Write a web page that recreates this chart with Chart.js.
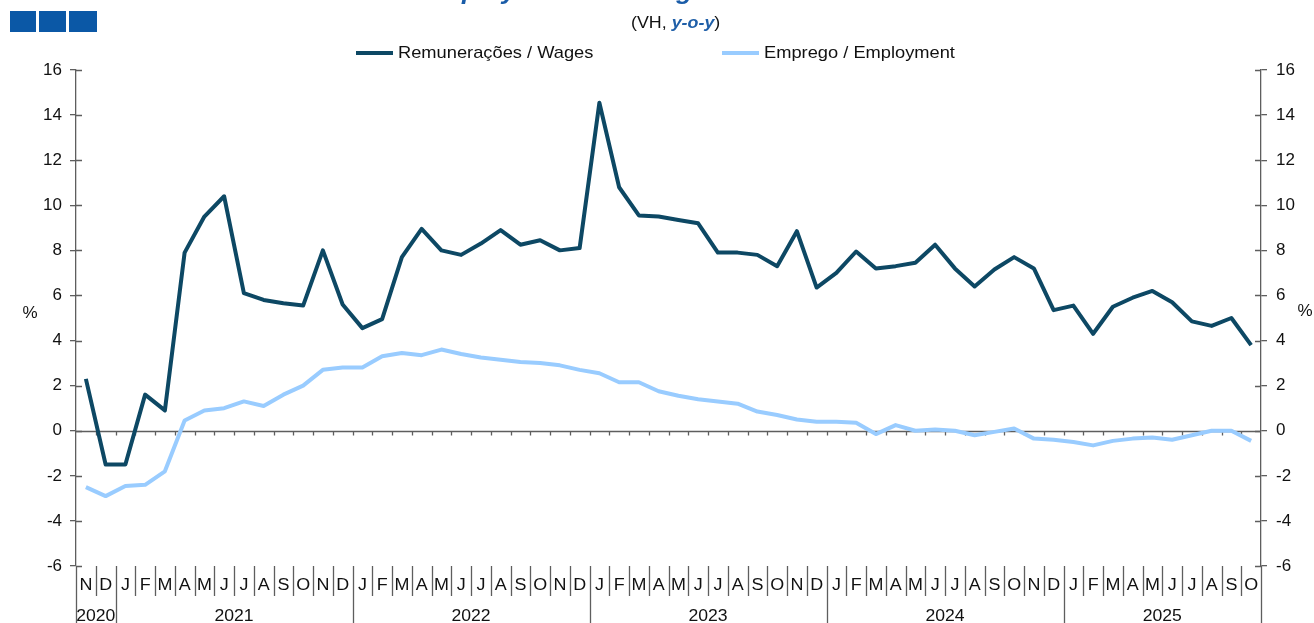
<!DOCTYPE html>
<html><head><meta charset="utf-8">
<script src="https://cdn.jsdelivr.net/npm/chart.js@4.4.0/dist/chart.umd.min.js"></script>
<style>html,body{margin:0;padding:0;background:#fff;overflow:hidden}</style>
</head><body>
<canvas id="c" width="1314" height="623" style="display:block;width:1314px;height:623px"></canvas>
<script>
const monthLabels = ['N','D',
 'J','F','M','A','M','J','J','A','S','O','N','D',
 'J','F','M','A','M','J','J','A','S','O','N','D',
 'J','F','M','A','M','J','J','A','S','O','N','D',
 'J','F','M','A','M','J','J','A','S','O','N','D',
 'J','F','M','A','M','J','J','A','S','O'];
const yearLabels = ['2020','2021','2022','2023','2024','2025'];
const yearStarts = [0,2,14,26,38,50];
const wages = [2.3,-1.5,
 -1.5,1.6,0.9,7.9,9.5,10.4,6.1,5.8,5.65,5.55,8.0,5.6,
 4.55,4.95,7.7,8.95,8.0,7.8,8.3,8.9,8.25,8.45,8.0,8.1,
 14.55,10.8,9.55,9.5,9.35,9.2,7.9,7.9,7.8,7.3,8.85,6.35,
 7.0,7.95,7.2,7.3,7.45,8.25,7.2,6.4,7.15,7.7,7.2,5.35,
 5.55,4.3,5.5,5.9,6.2,5.7,4.85,4.65,5.0,3.8];
const employment = [-2.5,-2.9,
 -2.45,-2.4,-1.8,0.45,0.9,1.0,1.3,1.1,1.6,2.0,2.7,2.8,
 2.8,3.3,3.45,3.35,3.6,3.4,3.25,3.15,3.05,3.0,2.9,2.7,
 2.55,2.15,2.15,1.75,1.55,1.4,1.3,1.2,0.85,0.7,0.5,0.4,
 0.4,0.35,-0.15,0.25,0.0,0.05,0.0,-0.2,-0.05,0.1,-0.35,-0.4,
 -0.5,-0.65,-0.45,-0.35,-0.3,-0.4,-0.2,0.0,0.0,-0.45];
const seriesNames = ['Remunerações / Wages','Emprego / Employment'];
const yMin = -6, yMax = 16, yStep = 2;

const C_WAGES = '#0d4864', C_EMP = '#99ccff', C_AXIS = '#5e5e5e', C_TEXT = '#111';
const FONT = '"Liberation Sans", Arial, sans-serif';

// draw text stretched horizontally by factor sx, anchored at (x,y) per current textAlign
function wideText(ctx, txt, x, y, sx) {
  ctx.save();
  ctx.translate(x, y);
  ctx.scale(sx, 1);
  ctx.fillText(txt, 0, 0);
  ctx.restore();
}

const decor = {
  id: 'decor',
  beforeDatasetsDraw(chart) {
    const {ctx, chartArea: a, scales: {x, y}} = chart;
    const y0 = Math.round(y.getPixelForValue(0)) + 0.5;
    const half = (x.getPixelForValue(1) - x.getPixelForValue(0)) / 2;
    ctx.save();
    ctx.strokeStyle = C_AXIS; ctx.lineWidth = 1.3;
    ctx.beginPath();
    ctx.moveTo(a.left, y0); ctx.lineTo(a.right, y0);
    for (let i = 1; i < monthLabels.length; i++) {
      const bx = Math.round(x.getPixelForValue(i) - half) + 0.5;
      ctx.moveTo(bx, y0); ctx.lineTo(bx, y0 + 4);
    }
    ctx.stroke();
    ctx.restore();
  },
  afterDraw(chart) {
    const {ctx, chartArea: a, scales: {x, y}} = chart;
    const H = chart.height;
    const half = (x.getPixelForValue(1) - x.getPixelForValue(0)) / 2;
    ctx.save();
    ctx.strokeStyle = C_AXIS; ctx.lineWidth = 1.3;
    ctx.beginPath();
    for (let v = yMin; v <= yMax; v += yStep) {
      const py = Math.round(y.getPixelForValue(v)) + 0.5;
      ctx.moveTo(a.left, py); ctx.lineTo(a.left + 6, py);
      ctx.moveTo(a.right, py); ctx.lineTo(a.right - 6, py);
    }
    const lx = Math.round(a.left) + 0.5, rx = Math.round(a.right) + 0.5;
    ctx.moveTo(lx, a.bottom); ctx.lineTo(lx, H);
    ctx.moveTo(rx, a.bottom); ctx.lineTo(rx, H);
    for (let i = 1; i < monthLabels.length; i++) {
      const bx = Math.round(x.getPixelForValue(i) - half) + 0.5;
      const isYear = yearStarts.includes(i);
      ctx.moveTo(bx, a.bottom); ctx.lineTo(bx, isYear ? H : a.bottom + 30);
    }
    ctx.stroke();

    ctx.fillStyle = C_TEXT;
    ctx.textAlign = 'center'; ctx.textBaseline = 'middle';
    ctx.font = '16px ' + FONT;
    monthLabels.forEach((m, i) => {
      wideText(ctx, m, x.getPixelForValue(i), a.bottom + 20, 1.12);
    });
    yearLabels.forEach((yr, k) => {
      const s = yearStarts[k];
      const e = k + 1 < yearStarts.length ? yearStarts[k + 1] - 1 : monthLabels.length - 1;
      const cx = (x.getPixelForValue(s) + x.getPixelForValue(e)) / 2;
      wideText(ctx, yr, cx, a.bottom + 51, 1.1);
    });
    ctx.font = '17px ' + FONT;
    ctx.fillText('%', 30, 313);
    ctx.fillText('%', 1305, 311);

    const legendItems = [
      {text: seriesNames[0], color: C_WAGES, x0: 356},
      {text: seriesNames[1], color: C_EMP, x0: 722}
    ];
    ctx.textAlign = 'left';
    ctx.font = '17px ' + FONT;
    legendItems.forEach(it => {
      ctx.strokeStyle = it.color; ctx.lineWidth = 4;
      ctx.beginPath(); ctx.moveTo(it.x0, 53); ctx.lineTo(it.x0 + 37, 53); ctx.stroke();
      ctx.fillStyle = C_TEXT;
      wideText(ctx, it.text, it.x0 + 42, 53, 1.075);
    });

    let sx = 631;
    const sub = [['(VH, ', '17px ', C_TEXT], ['y-o-y', 'italic bold 17px ', '#1f5fa8'], [')', '17px ', C_TEXT]];
    sub.forEach(([t, f, c]) => {
      ctx.font = f + FONT; ctx.fillStyle = c;
      wideText(ctx, t, sx, 23, 1.05);
      sx += ctx.measureText(t).width * 1.05;
    });

    ctx.font = 'italic bold 24px ' + FONT; ctx.fillStyle = '#1a5ca8';
    ctx.textBaseline = 'alphabetic';
    wideText(ctx, 'Employment and wages', 421, -1, 1.1);

    ctx.fillStyle = '#0b58a6';
    ctx.fillRect(10, 11, 26, 21);
    ctx.fillRect(39, 11, 27, 21);
    ctx.fillRect(69, 11, 28, 21);
    ctx.restore();
  }
};

const yAxisCommon = (pos, width, pad) => ({
  position: pos, min: yMin, max: yMax,
  ticks: {stepSize: yStep, color: C_TEXT, padding: pad, font: {family: FONT, size: 17}},
  grid: {drawOnChartArea: false, tickLength: 6, color: C_AXIS, lineWidth: 1.3},
  border: {color: C_AXIS, width: 1.3},
  afterFit(s) { s.width = width; }
});

new Chart(document.getElementById('c'), {
  type: 'line',
  data: {
    labels: monthLabels,
    datasets: [
      {label: seriesNames[0], data: wages, borderColor: C_WAGES, borderWidth: 4, pointRadius: 0, tension: 0, yAxisID: 'y', borderJoinStyle: 'round'},
      {label: seriesNames[1], data: employment, borderColor: C_EMP, borderWidth: 4, pointRadius: 0, tension: 0, yAxisID: 'y', borderJoinStyle: 'round'}
    ]
  },
  options: {
    responsive: false, animation: false, events: [],
    layout: {padding: {top: 70, bottom: 57, left: 0, right: 0}},
    plugins: {legend: {display: false}, tooltip: {enabled: false}, title: {display: false}},
    scales: {
      x: {type: 'category', offset: true, display: false},
      y: yAxisCommon('left', 76, 8),
      y2: yAxisCommon('right', 53, 9)
    }
  },
  plugins: [decor]
});
</script>
</body></html>
